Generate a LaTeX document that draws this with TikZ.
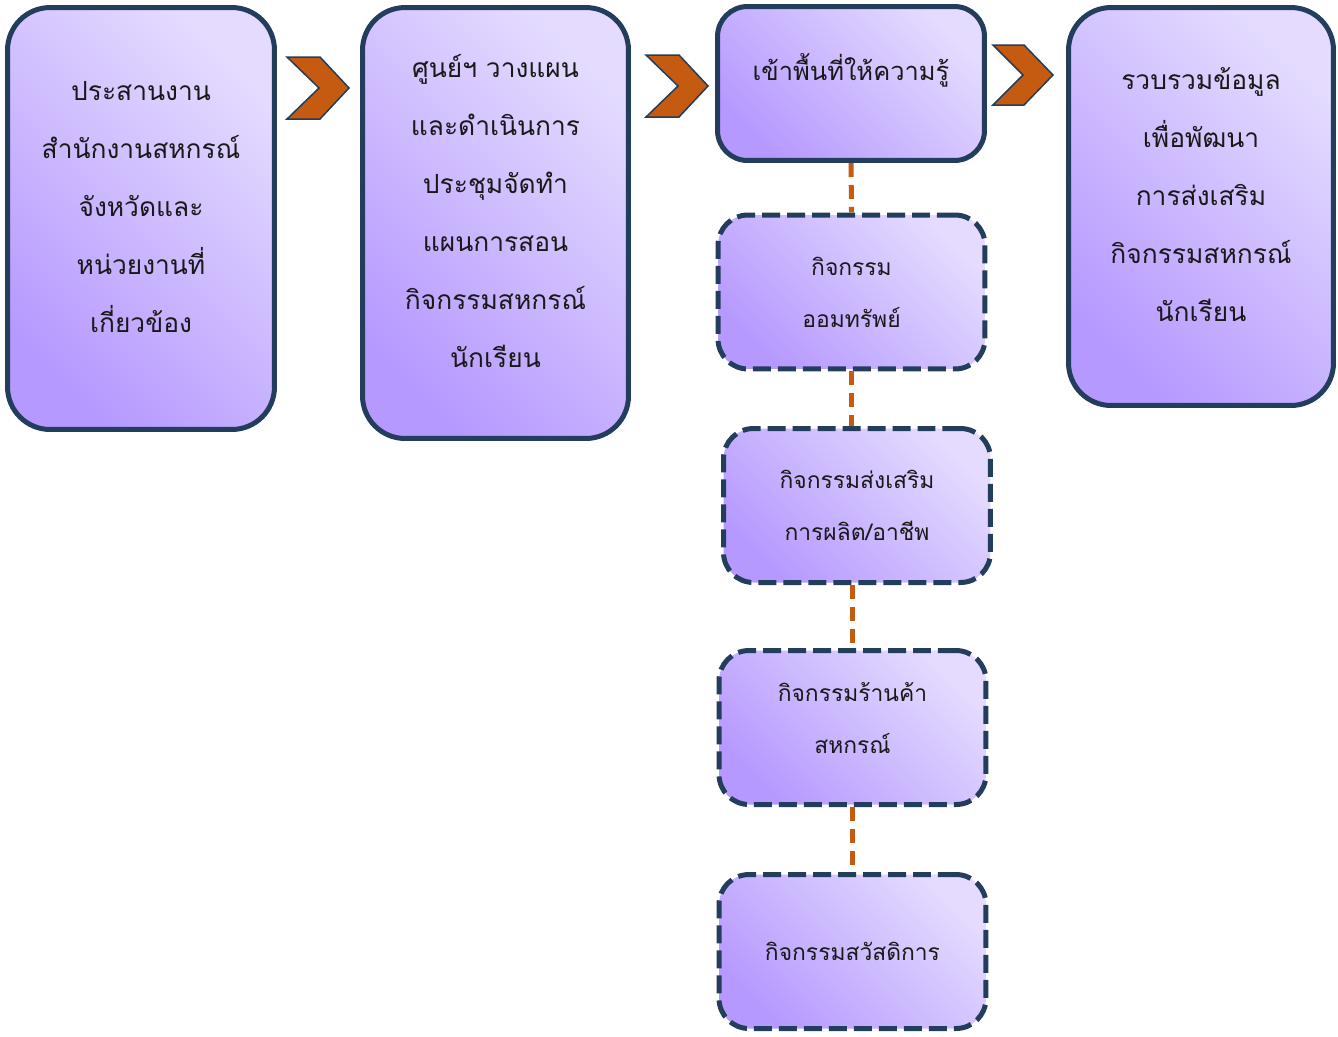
\documentclass[tikz,border=0pt]{standalone}
\usepackage{fontspec}
\newfontfamily\thaifont[Script=Thai]{Loma}
\usetikzlibrary{backgrounds}

\definecolor{boxline}{RGB}{35,62,92}
\definecolor{boxlight}{RGB}{228,219,255}
\definecolor{boxdark}{RGB}{182,153,255}
\definecolor{chevfill}{RGB}{197,90,17}

\tikzset{
  mainbox/.style={draw=boxline, line width=0.1cm, rounded corners=0.85cm,
    top color=boxlight, bottom color=boxdark, shading angle=-45,
    align=center, inner sep=0pt, text=black!90,
    font=\thaifont\fontsize{15}{33}\selectfont},
  topicbox/.style={mainbox, rounded corners=0.6cm,
    minimum width=5.34cm, minimum height=3.08cm},
  activitybox/.style={topicbox, dash pattern=on 0.36cm off 0.14cm,
    preaction={draw=white, line width=0.1cm},
    font=\thaifont\fontsize{13}{29.5}\selectfont},
  raised/.style={text depth=#1},
  linkline/.style={draw=chevfill, line width=0.1cm, dash pattern=on 0.28cm off 0.16cm},
  chevron/.style={draw=boxline, line width=0.03cm, fill=chevfill, line join=miter}
}

\begin{document}
\begin{tikzpicture}[x=0.02cm, y=-0.02cm]
  \useasboundingbox (0,0) rectangle (1338,1036);

  % Drawing the four main steps
  \node[mainbox, raised=0.47cm, minimum width=5.34cm, minimum height=8.44cm] (coordinate) at (141,218.5)
    {ประสานงาน\\สำนักงานสหกรณ์\\จังหวัดและ\\หน่วยงานที่\\เกี่ยวข้อง};
  \node[mainbox, raised=0.5cm, minimum width=5.32cm, minimum height=8.62cm] (planning) at (495.5,223)
    {ศูนย์ฯ วางแผน\\และดำเนินการ\\ประชุมจัดทำ\\แผนการสอน\\กิจกรรมสหกรณ์\\นักเรียน};
  \node[topicbox, raised=0.66cm, font=\thaifont\fontsize{14.5}{30}\selectfont] (visit) at (851,83.5)
    {เข้าพื้นที่ให้ความรู้};
  \node[mainbox, raised=0.47cm, minimum width=5.30cm, minimum height=7.96cm] (summary) at (1201,206.5)
    {รวบรวมข้อมูล\\เพื่อพัฒนา\\การส่งเสริม\\กิจกรรมสหกรณ์\\นักเรียน};

  % Drawing the activity boxes
  \node[activitybox] (savings) at (851.5,292) {กิจกรรม\\ออมทรัพย์};
  \node[activitybox] (career) at (857,505.5) {กิจกรรมส่งเสริม\\การผลิต/อาชีพ};
  \node[activitybox, raised=0.38cm] (shop) at (852.5,727.5) {กิจกรรมร้านค้า\\สหกรณ์};
  \node[activitybox] (welfare) at (852.5,951.5) {กิจกรรมสวัสดิการ};

  % Drawing the links behind the boxes
  \begin{scope}[on background layer]
    \draw[linkline] (visit.south) -- (savings.north);
    \draw[linkline] (savings.south) -- (savings.south |- career.north);
    \draw[linkline] (shop.north |- career.south) -- (shop.north);
    \draw[linkline] (shop.south) -- (welfare.north);
  \end{scope}

  % Drawing chevron between coordinate and planning
  \draw[chevron] (287,57) -- ++(33,0) -- ++(29,31) -- ++(-29,31) -- ++(-33,0) -- ++(32,-31) -- cycle;
  % Drawing chevron between planning and visit
  \draw[chevron] (646,55) -- ++(33,0) -- ++(29,31) -- ++(-29,31) -- ++(-33,0) -- ++(32,-31) -- cycle;
  % Drawing chevron between visit and summary
  \draw[chevron] (993,45) -- ++(31,0) -- ++(29,30) -- ++(-29,30) -- ++(-31,0) -- ++(30,-30) -- cycle;
\end{tikzpicture}
\end{document}
